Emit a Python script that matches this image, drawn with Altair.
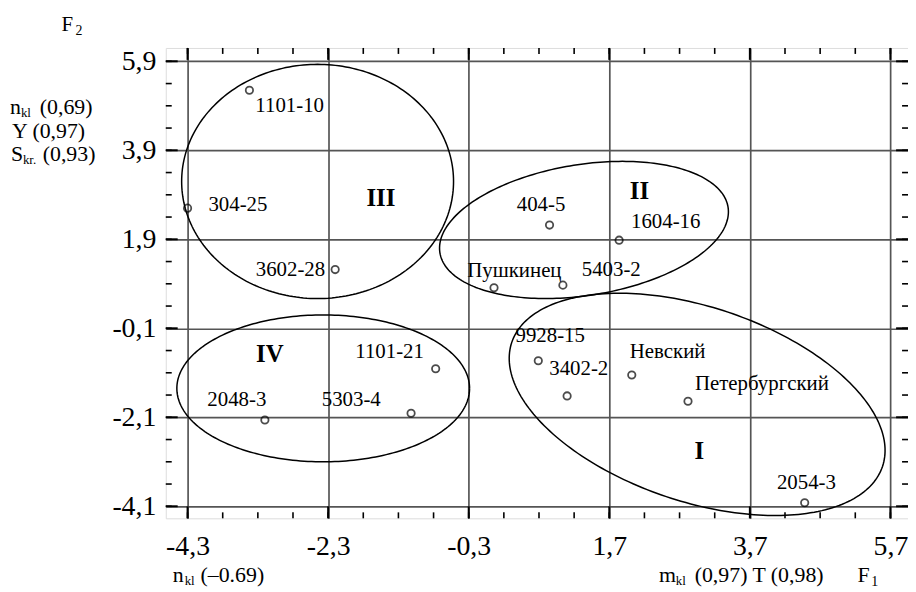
import altair as alt
import pandas as pd
import numpy as np

# ---------------- data ----------------
names = ["1101-10", "304-25", "3602-28", "404-5", "1604-16", "Пушкинец", "5403-2",
         "9928-15", "3402-2", "Невский", "Петербургский", "2054-3",
         "1101-21", "5303-4", "2048-3"]
f1 = [-3.42, -4.30, -2.20, 0.85, 1.84, 0.06, 1.04,
      0.69, 1.10, 2.02, 2.82, 4.48,
      -0.77, -1.12, -3.20]
f2 = [5.25, 2.60, 1.22, 2.22, 1.88, 0.81, 0.87,
      -0.83, -1.62, -1.15, -1.74, -4.02,
      -1.01, -2.01, -2.16]

cluster_names = ["I", "II", "III", "IV"]
cluster_cx = [2.95, 1.34, -2.45, -2.37]
cluster_cy = [-1.81, 2.11, 3.20, -1.45]
numeral_x = [2.98, 2.13, -1.55, -3.13]
numeral_y = [-2.87, 2.98, 2.82, -0.67]

x_major = [-4.3, -2.3, -0.3, 1.7, 3.7, 5.7]
y_major = [5.9, 3.9, 1.9, -0.1, -2.1, -4.1]
x_minor = [round(-4.3 + 0.5 * i, 2) for i in range(21)]
y_minor = [round(-4.1 + 0.5 * i, 2) for i in range(21)]

# ---------------- layout / style ----------------
X_DOM = [-4.61, 5.95]
Y_DOM = [-4.37, 6.2]
W, H = 748, 474
SX = W / (X_DOM[1] - X_DOM[0])
SY = H / (Y_DOM[1] - Y_DOM[0])
FONT = "Liberation Serif, Times New Roman, DejaVu Serif, serif"

# label offsets in px (left edge, baseline) relative to the point
label_dx = [6, 21, -80, -33, 12, -27, 19, -23, -18, -2, 7, -28, -81, -90, -58]
label_dy = [22, 3, 6, -14, -12.5, -11, -9, -19, -21, -17, -11, -14, -11, -7, -14]

# ellipse shapes in px: semi-axes and rotation (deg, counter-clockwise)
ell_a = [197, 147, 137, 147.5]
ell_b = [98, 66, 118, 74]
ell_rot = [-18.5, 9, 0, 0]

pts = pd.DataFrame({"name": names, "F1": f1, "F2": f2})
pts["lx"] = [x + dx / SX for x, dx in zip(f1, label_dx)]
pts["ly"] = [y - dy / SY for y, dy in zip(f2, label_dy)]

rows = []
t = np.linspace(0, 2 * np.pi, 241)
for k, nm in enumerate(cluster_names):
    th = np.radians(ell_rot[k])
    dxp = ell_a[k] * np.cos(t) * np.cos(th) - ell_b[k] * np.sin(t) * np.sin(th)
    dyp = ell_a[k] * np.cos(t) * np.sin(th) + ell_b[k] * np.sin(t) * np.cos(th)
    for i in range(len(t)):
        rows.append({"cl": nm, "i": i,
                     "x": cluster_cx[k] + dxp[i] / SX,
                     "y": cluster_cy[k] + dyp[i] / SY})
ell = pd.DataFrame(rows)
nums = pd.DataFrame({"t": cluster_names, "x": numeral_x, "y": numeral_y})

label_expr = "(datum.value < 0 ? '-' : '') + replace(format(abs(datum.value), '.1f'), '.', ',')"

xs = alt.Scale(domain=X_DOM, nice=False, zero=False)
ys = alt.Scale(domain=Y_DOM, nice=False, zero=False)

GRID = "#555555"
x_axis = alt.Axis(values=x_major, grid=True, gridColor=GRID, gridWidth=1.7,
                  domain=False, ticks=False, tickSize=0, labelPadding=14,
                  labelFont=FONT, labelFontSize=28, labelColor="black",
                  labelExpr=label_expr, title=None, labelFlush=False)
y_axis = alt.Axis(values=y_major, grid=True, gridColor=GRID, gridWidth=1.7,
                  domain=False, ticks=False, tickSize=0, labelPadding=10,
                  labelFont=FONT, labelFontSize=28, labelColor="black",
                  labelExpr=label_expr, title=None, labelFlush=False)

base_grid = alt.Chart(pts).mark_point(opacity=0).encode(
    x=alt.X("F1:Q", scale=xs, axis=x_axis),
    y=alt.Y("F2:Q", scale=ys, axis=y_axis),
)

ellipses = alt.Chart(ell).mark_line(color="black", strokeWidth=1.5).encode(
    x=alt.X("x:Q", scale=xs),
    y=alt.Y("y:Q", scale=ys),
    detail="cl:N",
    order="i:Q",
)

points = alt.Chart(pts).mark_point(shape="circle", filled=False, size=55,
                                   color="black", strokeWidth=1.8).encode(
    x=alt.X("F1:Q", scale=xs),
    y=alt.Y("F2:Q", scale=ys),
)

labels = alt.Chart(pts).mark_text(align="left", baseline="alphabetic",
                                  font=FONT, fontSize=21, color="black").encode(
    x=alt.X("lx:Q", scale=xs),
    y=alt.Y("ly:Q", scale=ys),
    text="name:N",
)

numerals = alt.Chart(nums).mark_text(align="center", baseline="middle", font=FONT,
                                     fontSize=25, fontWeight="bold", color="black").encode(
    x=alt.X("x:Q", scale=xs),
    y=alt.Y("y:Q", scale=ys),
    text="t:N",
)

# inward tick marks on all four sides
def tick_layer(vals, axis, side, length, width):
    df = pd.DataFrame({"v": vals})
    ch = alt.Chart(df).mark_rule(color="black", strokeWidth=width)
    if axis == "x":
        if side == "bottom":
            return ch.encode(x=alt.X("v:Q", scale=xs), y=alt.value(H), y2=alt.value(H - length))
        return ch.encode(x=alt.X("v:Q", scale=xs), y=alt.value(0), y2=alt.value(length))
    if side == "left":
        return ch.encode(y=alt.Y("v:Q", scale=ys), x=alt.value(0), x2=alt.value(length))
    return ch.encode(y=alt.Y("v:Q", scale=ys), x=alt.value(W), x2=alt.value(W - length))

ticks = []
for side in ["bottom", "top"]:
    ticks.append(tick_layer(x_minor, "x", side, 6, 1.6))
    ticks.append(tick_layer(x_major, "x", side, 12, 2))
for side in ["left", "right"]:
    ticks.append(tick_layer(y_minor, "y", side, 6, 1.6))
    ticks.append(tick_layer(y_major, "y", side, 12, 2))

# outer annotations (absolute px -> relative to plot origin 167,46)
OX, OY = 167, 46
annot = [
    ("F", 62, 29, 21), ("2", 76, 33, 14),
    ("n", 10, 113, 22), ("kl", 21, 116, 13), ("(0,69)", 40, 113, 22),
    ("Y (0,97)", 12, 137, 22),
    ("S", 11, 160, 22), ("kr.", 23, 163, 13), ("(0,93)", 43, 160, 22),
    ("n", 174, 584, 22), ("kl", 186, 587, 13), ("(–0.69)", 202, 584, 22),
    ("m", 664, 584, 22), ("kl", 681, 587, 13), ("(0,97) T (0,98)", 700, 584, 22),
    ("F", 864, 584, 22), ("1", 878, 588, 14),
]
one = pd.DataFrame({"a": [0]})
ann_layers = []
for txt, ax, ay, fs in annot:
    ann_layers.append(
        alt.Chart(one).mark_text(text=txt, align="left", baseline="alphabetic",
                                 font=FONT, fontSize=fs, color="black").encode(
            x=alt.value(ax - OX), y=alt.value(ay - OY))
    )

chart = alt.layer(base_grid, ellipses, *ticks, points, labels, numerals, *ann_layers).properties(
    width=W, height=H,
    autosize=alt.AutoSizeParams(type="none"),
    padding={"left": 159, "top": 38, "right": 0, "bottom": 72},
).configure_view(stroke="black", strokeWidth=2).configure(background="white")

chart.save("out.html", embed_options={"renderer": "svg", "actions": False})
